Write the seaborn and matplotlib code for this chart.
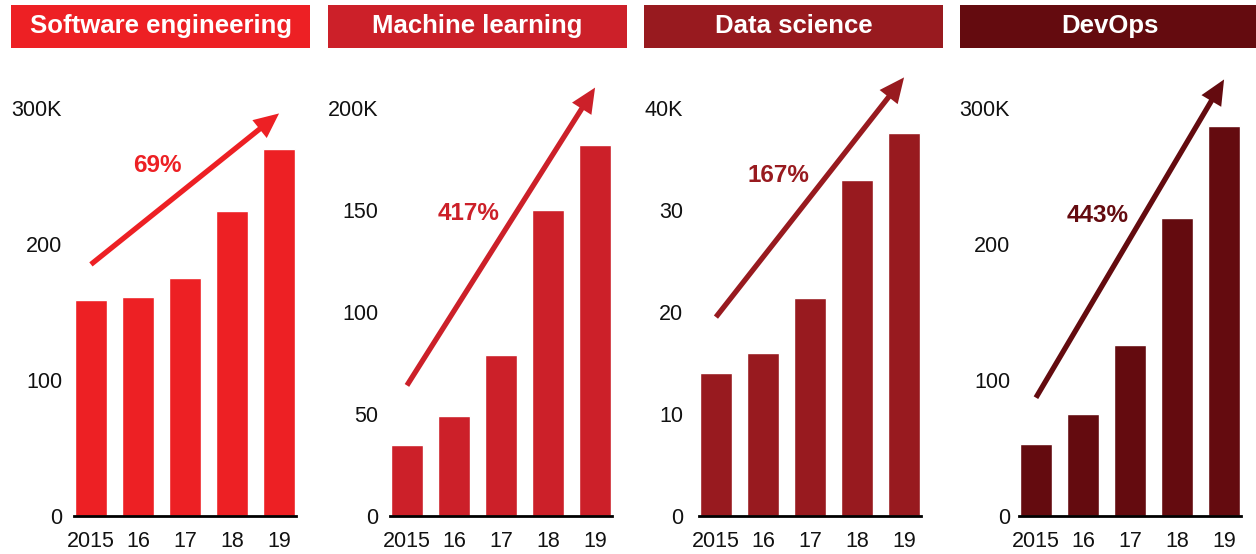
import matplotlib
matplotlib.use("Agg")
import matplotlib.pyplot as plt
from matplotlib.patches import Rectangle
import seaborn as sns

# --- data (values in thousands) ---
years = ["2015", "16", "17", "18", "19"]

titles = ["Software engineering", "Machine learning", "Data science", "DevOps"]
colors = ["#ED2024", "#CC2029", "#981A1F", "#640B0F"]

software = [159, 161, 175, 224, 270]
machine = [35, 49, 79, 150, 182]
data_sci = [14.0, 16.0, 21.4, 32.9, 37.5]
devops = [53, 75, 126, 219, 287]
series = [software, machine, data_sci, devops]

growth = ["69%", "417%", "167%", "443%"]

y_max = [300, 200, 40, 300]
y_ticks = [[0, 100, 200, 300], [0, 50, 100, 150, 200],
           [0, 10, 20, 30, 40], [0, 100, 200, 300]]
y_labels = [["0", "100", "200", "300K"], ["0", "50", "100", "150", "200K"],
            ["0", "10", "20", "30", "40K"], ["0", "100", "200", "300K"]]

# arrow start / end heights (data units, from first to last bar)
arrow_from = [185, 64, 19.5, 87]
arrow_to = [296, 210, 43, 321]
# where the growth labels sit (category index, value)
label_pos = [(1.42, 258), (1.31, 148.5), (1.33, 33.4), (1.31, 221)]

# --- layout (pixels) ---
W, H = 1256, 554
axes_left = [74, 390, 699, 1019]
banner_left = [11, 328, 644, 960]
tick_pad = [12, 12, 16, 9]
ax_w, ax_bottom, ax_top = 222, 516, 108

sns.set_style("white")
plt.rcParams["font.family"] = ["Liberation Sans", "DejaVu Sans"]

fig = plt.figure(figsize=(W / 100, H / 100), dpi=100)

for i in range(4):
    ax = fig.add_axes([axes_left[i] / W, (H - ax_bottom) / H,
                       ax_w / W, (ax_bottom - ax_top) / H])
    sns.barplot(x=years, y=series[i], color=colors[i], saturation=1,
                width=0.68, ax=ax)
    ax.set_xlim(-0.36, 4.36)
    ax.set_ylim(0, y_max[i])
    ax.set_yticks(y_ticks[i])
    ax.set_yticklabels(y_labels[i])
    ax.set_xlabel("")
    ax.set_ylabel("")
    for s in ["top", "right", "left"]:
        ax.spines[s].set_visible(False)
    ax.spines["bottom"].set_color("black")
    ax.spines["bottom"].set_linewidth(2)
    ax.tick_params(axis="y", length=0, pad=tick_pad[i] * 0.72,
                   labelsize=15.5, labelcolor="#111111")
    ax.tick_params(axis="x", length=0, pad=11, labelsize=15.5,
                   labelcolor="#111111")
    ax.grid(False)

    # growth arrow from the first bar to the last one
    ax.annotate("", xy=(4, arrow_to[i]), xytext=(0, arrow_from[i]),
                annotation_clip=False,
                arrowprops=dict(width=3.8, headwidth=16.5, headlength=18,
                                color=colors[i], lw=0, shrink=0))
    ax.text(label_pos[i][0], label_pos[i][1], growth[i], color=colors[i],
            fontsize=17.5, fontweight="bold", ha="center", va="center")

    # coloured title banner
    fig.add_artist(Rectangle((banner_left[i] / W, (H - 48) / H), 299 / W, 43 / H,
                             transform=fig.transFigure, color=colors[i], lw=0))
    fig.text((banner_left[i] + 149.5) / W, (H - 33) / H, titles[i],
             color="white", fontsize=18.5, fontweight="bold",
             ha="center", va="baseline")

fig.savefig("out.png", dpi=100)
